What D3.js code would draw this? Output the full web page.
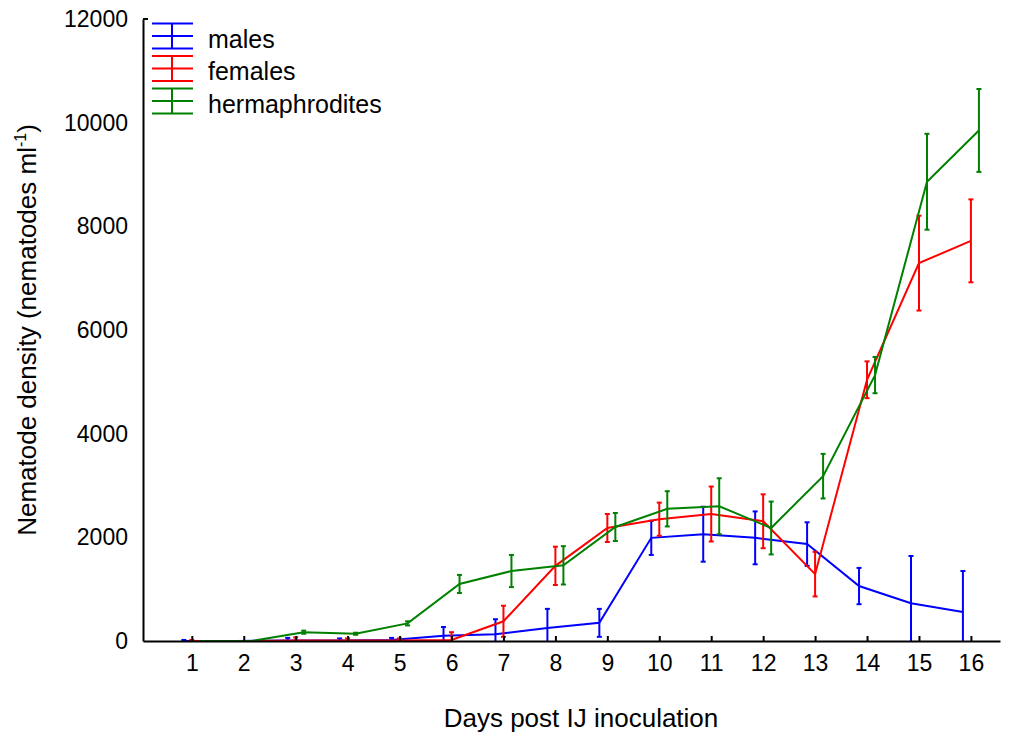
<!DOCTYPE html>
<html><head><meta charset="utf-8">
<script src="https://cdn.jsdelivr.net/npm/d3@7/dist/d3.min.js"></script>
<style>body{margin:0;background:#fff}svg{display:block}text{font-family:Arial,"Liberation Sans",sans-serif;fill:#000}</style>
</head><body><svg id="c" width="1014" height="735"></svg>
<script>
const days = [1,2,3,4,5,6,7,8,9,10,11,12,13,14,15,16];
const yTicks = [0,2000,4000,6000,8000,10000,12000];
const seriesNames = ["males","females","hermaphrodites"];
const seriesColors = ["#0000ff","#ff0000","#008000"];
const males      = [0,0,10,10,20,100,130,250,350,1990,2060,1990,1870,1060,730,560];
const malesErr   = [20,0,50,40,40,170,290,370,270,330,530,510,420,350,910,790];
const females    = [0,0,10,10,10,20,380,1450,2180,2350,2450,2310,1290,5040,7290,7720];
const femalesErr = [20,0,60,40,40,150,300,370,270,320,530,520,430,355,915,800];
const herm       = [0,0,170,140,340,1100,1350,1460,2200,2550,2600,2180,3180,5130,8860,9850];
const hermErr    = [0,0,30,20,40,175,310,370,270,340,540,510,430,350,925,800];

const svg = d3.select("#c");
const L=143, R=1000, T=19, B=641;
const x = d3.scaleLinear().domain([0.06,16.56]).range([L,R]);
const y = d3.scaleLinear().domain([0,12000]).range([B,T]);
const offsets = [-8,0,8];
const FS = 23, FT = 26, FL = 25;

svg.append("defs").append("clipPath").attr("id","clip")
  .append("rect").attr("x",L).attr("y",0).attr("width",R-L).attr("height",B);

const series = [
  {name:seriesNames[0], color:seriesColors[0], v:males, e:malesErr, off:offsets[0]},
  {name:seriesNames[1], color:seriesColors[1], v:females, e:femalesErr, off:offsets[1]},
  {name:seriesNames[2], color:seriesColors[2], v:herm, e:hermErr, off:offsets[2]}
];

const plot = svg.append("g").attr("clip-path","url(#clip)");
series.forEach(s=>{
  const pts = days.map((d,i)=>({d, v:s.v[i], e:s.e[i]}));
  const g = plot.append("g");
  g.append("path").datum(pts)
    .attr("fill","none").attr("stroke",s.color).attr("stroke-width",2)
    .attr("d", d3.line().x(p=>x(p.d)+s.off).y(p=>y(p.v)));
  pts.forEach(p=>{
    if(p.e<=0) return;
    const cx = x(p.d)+s.off, y1=y(p.v+p.e), y2=y(p.v-p.e);
    g.append("line").attr("x1",cx).attr("x2",cx).attr("y1",y1).attr("y2",y2)
      .attr("stroke",s.color).attr("stroke-width",2);
    [y1,y2].forEach(yy=>g.append("line").attr("x1",cx-2.5).attr("x2",cx+2.5).attr("y1",yy).attr("y2",yy)
      .attr("stroke",s.color).attr("stroke-width",2));
  });
});

// X axis
const xa = svg.append("g").attr("transform",`translate(0,${B})`)
  .call(d3.axisBottom(x).tickValues(days).tickFormat(d3.format("d")).tickSizeInner(-5).tickSizeOuter(0).tickPadding(14));
xa.select(".domain").attr("stroke","#000").attr("stroke-width",2);
xa.selectAll(".tick line").attr("stroke","#000").attr("stroke-width",2);
xa.selectAll(".tick text").style("font-size",FS+"px").style("font-family","Arial, 'Liberation Sans', sans-serif").attr("fill","#000");

// Y axis
const ya = svg.append("g").attr("transform",`translate(${L},0)`)
  .call(d3.axisLeft(y).tickValues(yTicks).tickFormat(d3.format("d")).tickSize(0).tickPadding(15));
ya.select(".domain").attr("stroke","#000").attr("stroke-width",2);
ya.selectAll(".tick text").style("font-size",FS+"px").style("font-family","Arial, 'Liberation Sans', sans-serif").attr("fill","#000");
svg.append("line").attr("x1",L).attr("x2",L+5).attr("y1",y(12000)).attr("y2",y(12000)).attr("stroke","#000").attr("stroke-width",2);

// Axis titles
svg.append("text").attr("x",581).attr("y",727).attr("text-anchor","middle").style("font-size",FT+"px").text("Days post IJ inoculation");
const yt = svg.append("text").attr("transform","translate(36,330) rotate(-90)").attr("text-anchor","middle").style("font-size",FT+"px");
yt.append("tspan").text("Nematode density (nematodes ml");
yt.append("tspan").attr("dy",-10).style("font-size","16px").text("-1");
yt.append("tspan").attr("dy",10).text(")");

// Legend
const leg = svg.append("g");
series.forEach((s,i)=>{
  const cy = 36 + i*32.5;
  const g = leg.append("g");
  [cy-12.5, cy, cy+12.5].forEach(yy=>g.append("line").attr("x1",152).attr("x2",193).attr("y1",yy).attr("y2",yy).attr("stroke",s.color).attr("stroke-width",2));
  g.append("line").attr("x1",172).attr("x2",172).attr("y1",cy-12.5).attr("y2",cy+12.5).attr("stroke",s.color).attr("stroke-width",2);
  g.append("text").attr("x",208).attr("y",cy+3).attr("dy","0.35em").style("font-size",FL+"px").text(s.name);
});
</script></body></html>
